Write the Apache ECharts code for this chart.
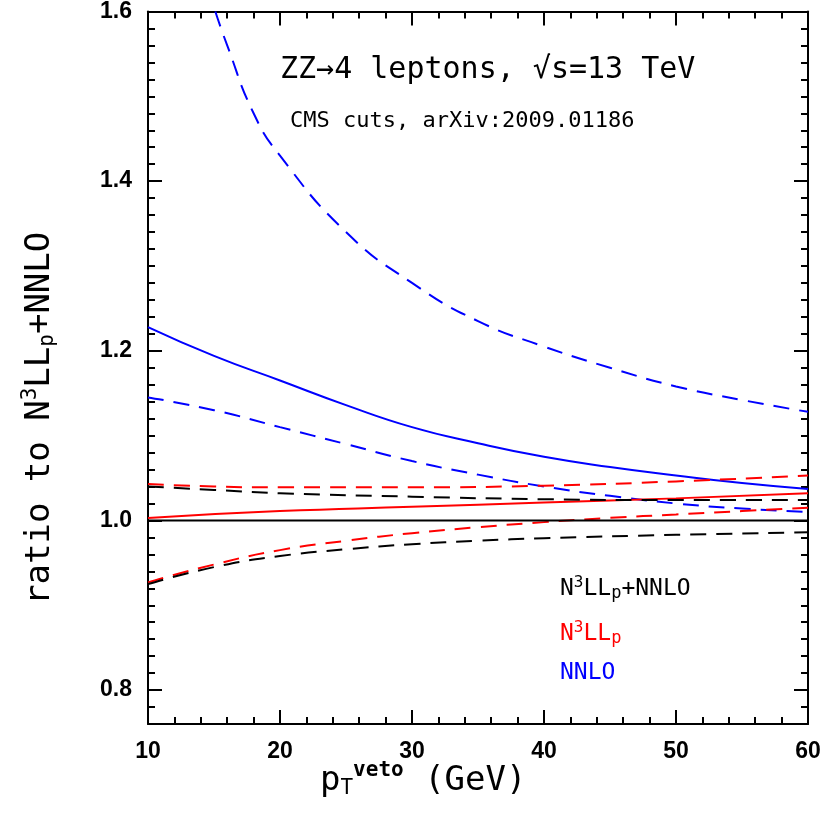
<!DOCTYPE html><html><head><meta charset="utf-8">
<script src="https://cdn.jsdelivr.net/npm/echarts@6/dist/echarts.min.js"></script>
<style>body{margin:0}#c{width:825px;height:830px}</style></head><body><div id="c"></div><script>
const blueDashUp=[[15.1,1.6],[16,1.56],[18,1.48],[20,1.43],[25,1.34],[30,1.28],[35,1.235],[40,1.205],[45,1.18],[50,1.158],[55,1.142],[60,1.128]];
const blueSolid=[[10,1.228],[15,1.194],[20,1.165],[25,1.136],[30,1.11],[35,1.091],[40,1.075],[45,1.063],[50,1.053],[55,1.044],[60,1.037]];
const blueDashLo=[[10,1.145],[15,1.13],[20,1.11],[25,1.09],[30,1.07],[35,1.054],[40,1.04],[45,1.029],[50,1.02],[55,1.014],[60,1.01]];
const redSolid=[[10,1.003],[20,1.011],[30,1.016],[40,1.021],[50,1.026],[60,1.032]];
const redDashUp=[[10,1.043],[15,1.04],[20,1.039],[30,1.039],[40,1.041],[50,1.046],[60,1.053]];
const redDashLo=[[10,0.927],[15,0.948],[20,0.965],[25,0.976],[30,0.985],[35,0.992],[40,0.998],[45,1.003],[50,1.007],[55,1.011],[60,1.015]];
const blackDashUp=[[10,1.04],[15,1.036],[20,1.032],[30,1.028],[40,1.025],[50,1.024],[60,1.024]];
const blackDashLo=[[10,0.925],[15,0.945],[20,0.958],[25,0.966],[30,0.972],[35,0.976],[40,0.979],[50,0.983],[60,0.986]];
const blackSolid=[[10,1.0],[60,1.0]];
const yMajor=[0.8,1.0,1.2,1.4,1.6];
const yMinor=[];for(let v=0.76;v<=1.6001;v+=0.02)yMinor.push(+v.toFixed(2));
const F='DejaVu Sans Mono';
const c=echarts.init(document.getElementById('c'));
const ln=(d,col,dash)=>({type:'line',data:d,showSymbol:false,smooth:true,xAxisIndex:0,yAxisIndex:0,lineStyle:{color:col,width:2,type:dash?[16,10]:'solid'},z:3});
const yax=(pos,vals,len,show)=>({type:'value',min:0.76,max:1.6,position:pos,axisLine:{show:show,lineStyle:{color:'#000',width:2}},splitLine:{show:false},
 axisTick:{inside:true,length:len,customValues:vals,lineStyle:{color:'#000',width:2}},
 axisLabel:{show:pos==='left'&&show,customValues:yMajor,formatter:v=>v.toFixed(1),fontSize:23,fontWeight:'bold',fontFamily:'Liberation Sans',color:'#000',margin:16}});
const xax=(pos,show)=>({type:'value',min:10,max:60,interval:10,position:pos,axisLine:{show:true,lineStyle:{color:'#000',width:2}},splitLine:{show:false},
 axisTick:{inside:true,length:14,lineStyle:{color:'#000',width:2}},minorTick:{show:true,splitNumber:5,length:7,lineStyle:{color:'#000',width:2}},
 axisLabel:{show:show,fontSize:23,fontWeight:'bold',fontFamily:'Liberation Sans',color:'#000',margin:16}});
c.setOption({animation:false,
grid:{left:148,right:17,top:8,bottom:106},
xAxis:[xax('bottom',true),xax('top',false)],
yAxis:[yax('left',yMajor,14,true),yax('right',yMajor,14,true),yax('left',yMinor,7,false),yax('right',yMinor,7,false)],
series:[ln(blueDashUp,'#0000ff',1),ln(blueSolid,'#0000ff',0),ln(blueDashLo,'#0000ff',1),
ln(redSolid,'#ff0000',0),ln(redDashUp,'#ff0000',1),ln(redDashLo,'#ff0000',1),
ln(blackDashUp,'#000',1),ln(blackDashLo,'#000',1),ln(blackSolid,'#000',0)],
graphic:[
{type:'text',left:280,top:55,style:{text:'ZZ→4 leptons, √s=13 TeV',font:'30px '+F,fill:'#000'}},
{type:'text',left:290,top:110,style:{text:'CMS cuts, arXiv:2009.01186',font:'22px '+F,fill:'#000'}},
{type:'text',left:560,top:575,style:{rich:{a:{font:'23px '+F,fill:'#000'},s:{font:'16px '+F,fill:'#000',padding:[0,0,12,0]},b:{font:'17px '+F,fill:'#000',padding:[10,0,0,0]}},text:'{a|N}{s|3}{a|LL}{b|p}{a|+NNLO}'}},
{type:'text',left:560,top:620,style:{rich:{a:{font:'23px '+F,fill:'#ff0000'},s:{font:'16px '+F,fill:'#ff0000',padding:[0,0,12,0]},b:{font:'17px '+F,fill:'#ff0000',padding:[10,0,0,0]}},text:'{a|N}{s|3}{a|LL}{b|p}'}},
{type:'text',left:560,top:662,style:{text:'NNLO',font:'23px '+F,fill:'#0000ff'}},
{type:'text',left:320,top:760,style:{rich:{a:{font:'34px '+F,fill:'#000'},s:{font:'bold 21px '+F,fill:'#000',padding:[0,0,22,0]},b:{font:'21px '+F,fill:'#000',padding:[14,0,0,0]}},text:'{a|p}{b|T}{s|veto}{a| (GeV)}'}},
{type:'text',x:20,y:605,rotation:Math.PI/2,style:{rich:{a:{font:'34px '+F,fill:'#000'},s:{font:'21px '+F,fill:'#000',padding:[0,0,20,0]},b:{font:'21px '+F,fill:'#000',padding:[14,0,0,0]}},text:'{a|ratio to N}{s|3}{a|LL}{b|p}{a|+NNLO}'}}
]});
</script></body></html>
